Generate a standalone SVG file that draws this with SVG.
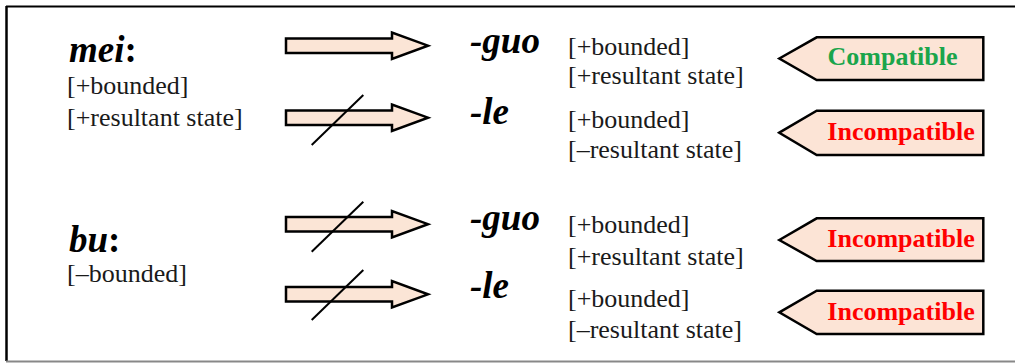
<svg xmlns="http://www.w3.org/2000/svg" width="1015" height="363" viewBox="0 0 1015 363">
<style>
.feat{font-family:"Liberation Serif","Times New Roman",serif;font-size:26px;fill:#1a1a1a}
.head{font-family:"Liberation Serif","Times New Roman",serif;font-size:37px;font-weight:bold;font-style:italic;fill:#000}
.colon{font-style:normal}
.arrow{fill:#fbe5d6;stroke:#000;stroke-width:2.5;stroke-linejoin:miter}
.slash{stroke:#000;stroke-width:2;fill:none}
.tag{fill:#fce4d6;stroke:#000;stroke-width:2.5}
.lbl{font-family:"Liberation Serif","Times New Roman",serif;font-size:26px;font-weight:bold}
.ok{fill:#1aa54b}
.bad{fill:#ff0000}
</style>
<rect x="0" y="0" width="1015" height="363" fill="#fff"/>
<g id="frame">
<line x1="6" y1="6.5" x2="1015" y2="6.5" stroke="#000" stroke-width="2"/>
<line x1="6.5" y1="6" x2="6.5" y2="361" stroke="#000" stroke-width="2.5"/>
<line x1="6" y1="361.5" x2="1015" y2="361.5" stroke="#888" stroke-width="2"/>
</g>
<g id="mei">
<text class="head" x="69" y="62">mei<tspan class="colon">:</tspan></text>
<text class="feat" x="67" y="94">[+bounded]</text>
<text class="feat" x="67" y="126">[+resultant state]</text>
</g>
<g id="bu">
<text class="head" x="69" y="252">bu<tspan class="colon">:</tspan></text>
<text class="feat" x="67" y="282">[–bounded]</text>
</g>
<g id="connectors">
<path class="arrow" d="M286,38.5 H392 V32.5 L428,45.7 L392,59 V53 H286 Z"/>
<path class="arrow" d="M286,110.5 H392 V104.5 L428,117.7 L392,131 V125 H286 Z"/>
<line class="slash" x1="311.7" y1="145" x2="363.3" y2="95"/>
<path class="arrow" d="M286,217 H392 V211 L428,224.2 L392,237.5 V231.5 H286 Z"/>
<line class="slash" x1="311.7" y1="251.7" x2="363.3" y2="201.7"/>
<path class="arrow" d="M286,287 H392 V281 L428,294.3 L392,307.5 V301.5 H286 Z"/>
<line class="slash" x1="311.7" y1="320" x2="363.3" y2="270"/>
</g>
<g id="guo1">
<text class="head" x="470" y="53">-guo</text>
<text class="feat" x="568" y="55">[+bounded]</text>
<text class="feat" x="568" y="84">[+resultant state]</text>
</g>
<g id="le1">
<text class="head" x="470" y="124">-le</text>
<text class="feat" x="568" y="128">[+bounded]</text>
<text class="feat" x="568" y="158">[–resultant state]</text>
</g>
<g id="guo2">
<text class="head" x="470" y="230">-guo</text>
<text class="feat" x="568" y="233">[+bounded]</text>
<text class="feat" x="568" y="265">[+resultant state]</text>
</g>
<g id="le2">
<text class="head" x="470" y="298">-le</text>
<text class="feat" x="568" y="307">[+bounded]</text>
<text class="feat" x="568" y="338">[–resultant state]</text>
</g>
<g id="tag1">
<path class="tag" d="M779.3,58.5 L816.7,37.3 H983.3 V80 H816.7 Z"/>
<text class="lbl ok" x="892.5" y="65" text-anchor="middle">Compatible</text>
</g>
<g id="tag2">
<path class="tag" d="M779.3,132.7 L816.7,110.7 H983.3 V155 H816.7 Z"/>
<text class="lbl bad" x="901" y="140" text-anchor="middle">Incompatible</text>
</g>
<g id="tag3">
<path class="tag" d="M779.3,240 L816.7,218.3 H983.3 V261 H816.7 Z"/>
<text class="lbl bad" x="901" y="247" text-anchor="middle">Incompatible</text>
</g>
<g id="tag4">
<path class="tag" d="M779.3,312.3 L816.7,290.7 H983.3 V334 H816.7 Z"/>
<text class="lbl bad" x="901" y="319.5" text-anchor="middle">Incompatible</text>
</g>
</svg>
